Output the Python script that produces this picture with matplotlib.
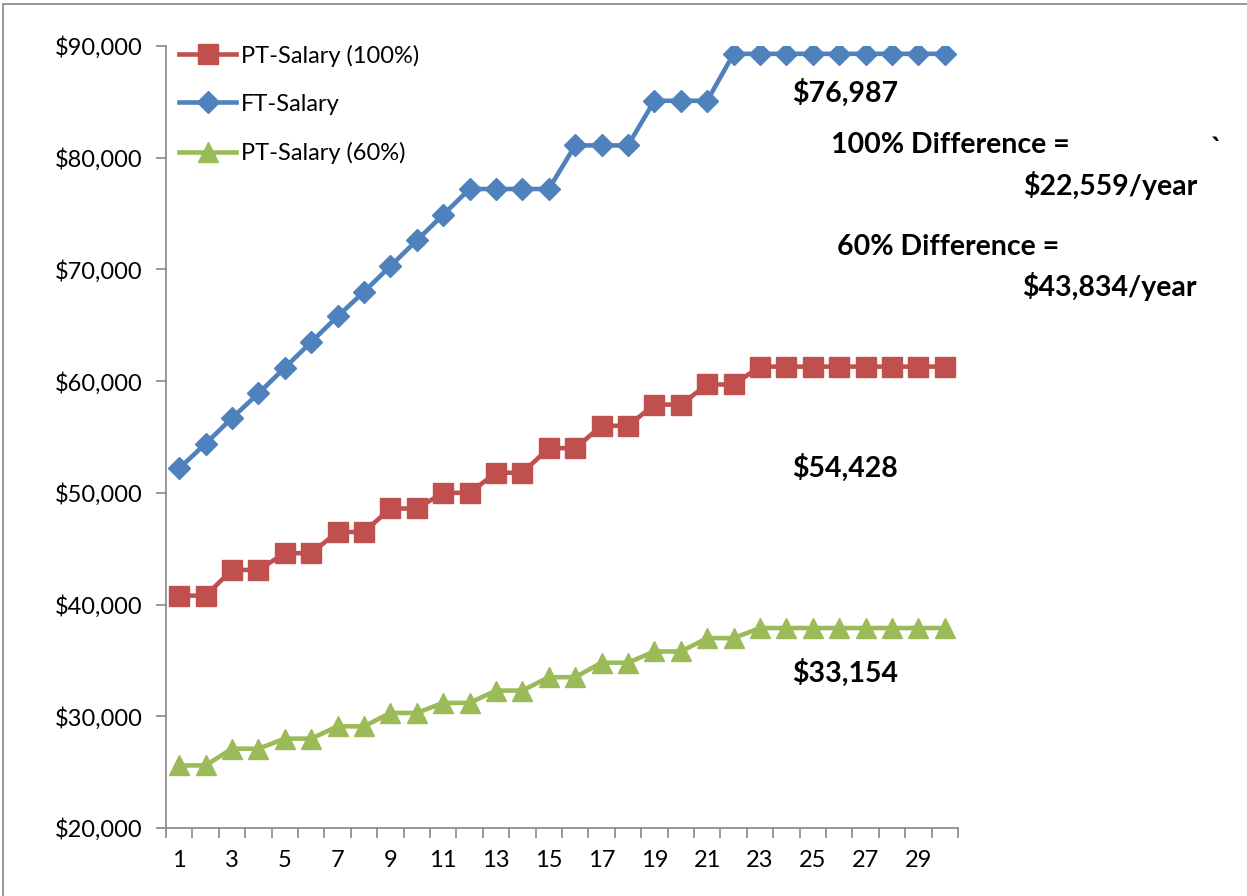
import matplotlib
matplotlib.use("Agg")
import matplotlib.pyplot as plt
from matplotlib.patches import Rectangle
from matplotlib.ticker import FuncFormatter

plt.rcParams['font.family'] = ['Lato', 'DejaVu Sans']

# Salary step data
years = list(range(1, 31))
ft_salary = [52200, 54400, 56700, 58900, 61200, 63500, 65800, 68000, 70300, 72600,
             74900, 77200, 77200, 77200, 77200, 81100, 81100, 81100, 85100, 85100,
             85100, 89300, 89300, 89300, 89300, 89300, 89300, 89300, 89300, 89300]
pt_salary_100 = [40800, 40800, 43100, 43100, 44600, 44600, 46500, 46500, 48600, 48600,
                 50000, 50000, 51800, 51800, 54000, 54000, 56000, 56000, 57900, 57900,
                 59700, 59700, 61300, 61300, 61300, 61300, 61300, 61300, 61300, 61300]
pt_salary_60 = [25600, 25600, 27100, 27100, 28000, 28000, 29100, 29100, 30300, 30300,
                31200, 31200, 32300, 32300, 33500, 33500, 34800, 34800, 35800, 35800,
                37000, 37000, 37900, 37900, 37900, 37900, 37900, 37900, 37900, 37900]

fig = plt.figure(figsize=(12.47, 8.96), dpi=100)
ax = fig.add_axes([166 / 1247, 1 - 828 / 896, (958 - 166) / 1247, (828 - 46) / 896])

# outer chart frame
fig.patches.append(Rectangle((3 / 1247, -0.01), 1.2, 1.01 - 4 / 896, transform=fig.transFigure,
                             fill=False, edgecolor='#868686', linewidth=1.2))

ax.plot(years, pt_salary_100, color='#C0504D', marker='s', markersize=14, linewidth=3.3,
        label='PT-Salary (100%)')
ax.plot(years, ft_salary, color='#4F81BD', marker='D', markersize=11, linewidth=3.3,
        label='FT-Salary')
ax.plot(years, pt_salary_60, color='#9BBB59', marker='^', markersize=15, linewidth=3.3,
        label='PT-Salary (60%)')

ax.set_xlim(0.5, 30.5)
ax.set_ylim(20000, 90000)
ax.set_yticks(range(20000, 90001, 10000))
ax.yaxis.set_major_formatter(FuncFormatter(lambda v, p: f'${v:,.0f}'))

# tick marks on category boundaries, labels on odd years
ax.set_xticks([i + 0.5 for i in range(0, 31)])
ax.set_xticklabels([])
ax.set_xticks(years[::2], minor=True)
ax.set_xticklabels([str(y) for y in years[::2]], minor=True)
ax.tick_params(axis='x', which='major', length=7, width=1.2, color='#868686')
ax.tick_params(axis='x', which='minor', length=0, pad=16, labelsize=17)
ax.tick_params(axis='y', length=7, width=1.2, color='#868686', pad=10, labelsize=17)

for side in ['top', 'right']:
    ax.spines[side].set_visible(False)
for side in ['left', 'bottom']:
    ax.spines[side].set_color('#868686')
    ax.spines[side].set_linewidth(1.2)

ax.legend(loc='upper left', bbox_to_anchor=(0.005, 1.014), frameon=False, fontsize=17,
          handlelength=2.4, handletextpad=0.2, labelspacing=1.15, borderaxespad=0)

# annotations
bold = dict(fontsize=20.5, fontweight='bold', color='black', transform=fig.transFigure)
fig.text(845 / 1247, 1 - 93 / 896, '$76,987', ha='center', va='center', **bold)
fig.text(950 / 1247, 1 - 145 / 896, '100% Difference =', ha='center', va='center', **bold)
fig.text(1217 / 1247, 1 - 150 / 896, '`', ha='center', va='center', **bold)
fig.text(1197 / 1247, 1 - 186 / 896, '$22,559/year', ha='right', va='center', **bold)
fig.text(948 / 1247, 1 - 247 / 896, '60% Difference =', ha='center', va='center', **bold)
fig.text(1197 / 1247, 1 - 286 / 896, '$43,834/year', ha='right', va='center', **bold)
fig.text(845 / 1247, 1 - 468 / 896, '$54,428', ha='center', va='center', **bold)
fig.text(845 / 1247, 1 - 673 / 896, '$33,154', ha='center', va='center', **bold)

fig.savefig('out.png', dpi=100)
